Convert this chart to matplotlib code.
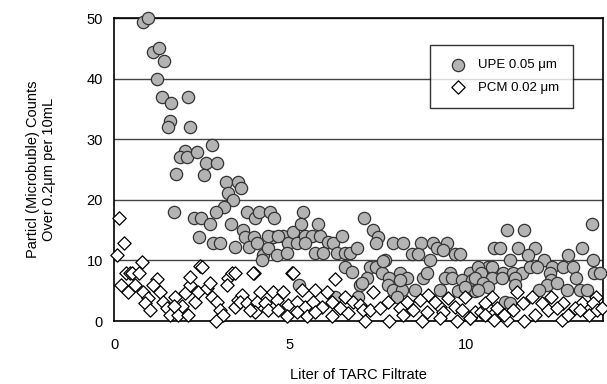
import matplotlib.pyplot as plt

plt.rcParams['font.family'] = ['Liberation Sans', 'DejaVu Sans']

# UPE 0.05 um (grey circles)
upe_x = [0.82, 0.97, 1.11, 1.28, 1.42, 1.22, 1.36, 1.62, 2.10, 1.59, 1.53, 2.16,
         2.78, 2.02, 1.88, 2.07, 2.36, 2.61, 2.93, 1.76, 2.56, 3.18, 3.52, 3.61,
         3.24, 3.38, 3.13, 2.90, 1.70, 2.27, 2.47, 2.73, 2.41, 2.81, 3.01, 3.44,
         3.32, 3.66, 3.78, 4.01, 4.12, 4.43, 4.55, 3.72, 3.98, 3.84, 4.06, 4.23,
         4.20, 4.38, 4.52, 4.63, 4.80, 4.94, 5.09, 5.20, 5.37, 5.31, 5.43, 5.63,
         5.85, 5.80, 6.08, 6.22, 6.48, 5.71, 5.94, 6.34, 6.56, 6.70, 6.90, 5.43,
         4.91, 4.38, 4.66, 5.26, 7.10, 7.36, 7.50, 7.44, 7.93, 8.21, 8.72, 9.06,
         9.18, 9.46, 9.35, 8.47, 8.64, 8.98, 7.70, 6.56, 7.27, 7.44, 7.61, 8.13,
         8.32, 8.78, 8.89, 7.81, 6.99, 7.19, 7.78, 7.93, 6.28, 6.93, 8.18, 8.55,
         8.04, 9.26, 6.76, 7.05, 7.64, 8.13, 9.55, 9.40, 9.60, 10.11, 10.40, 10.63,
         9.91, 10.17, 9.77, 10.26, 9.69, 9.83, 11.19, 11.65, 10.82, 10.97, 11.48, 11.96,
         13.32, 11.76, 12.90, 13.58, 11.25, 12.24, 13.61, 10.34, 10.74, 10.45, 11.05, 11.34,
         11.59, 11.82, 12.02, 12.47, 12.76, 13.04, 10.26, 10.74, 11.02, 11.39, 12.39, 12.44,
         13.15, 13.66, 13.81, 9.97, 10.48, 10.63, 11.39, 12.30, 12.61, 10.34, 12.10, 12.87,
         13.24, 13.44, 11.11, 11.25]
upe_y = [49.3, 50.0, 44.4, 45.0, 42.9, 39.9, 37.0, 36.0, 37.0, 33.0, 32.0, 32.0,
         29.0, 28.1, 27.1, 27.1, 27.9, 26.1, 26.1, 24.3, 24.1, 22.9, 22.9, 21.9,
         21.1, 20.0, 18.8, 18.0, 18.0, 17.0, 17.0, 16.0, 13.9, 12.9, 12.9, 12.2,
         16.0, 15.0, 18.0, 17.0, 18.0, 18.0, 17.0, 13.9, 13.9, 12.2, 12.9, 10.9,
         10.1, 12.0, 13.9, 10.9, 14.0, 12.9, 14.7, 12.9, 18.0, 16.0, 14.0, 14.0,
         14.0, 16.0, 13.0, 12.9, 14.0, 11.2, 11.2, 11.2, 11.2, 11.2, 12.0, 12.9,
         11.2, 14.0, 14.0, 5.9, 17.0, 15.0, 13.9, 12.9, 12.9, 12.9, 12.9, 12.9,
         12.0, 12.9, 11.7, 11.1, 11.1, 10.1, 10.1, 8.9, 8.9, 8.9, 7.9, 7.9,
         7.1, 7.1, 7.9, 7.1, 5.9, 7.1, 5.9, 5.1, 4.0, 4.0, 5.1, 5.1,
         4.0, 5.1, 8.1, 6.3, 9.9, 6.8, 7.9, 7.1, 7.1, 7.9, 7.9, 8.9,
         6.8, 6.8, 5.0, 5.0, 11.1, 11.1, 15.0, 15.0, 12.0, 12.0, 12.0, 12.0,
         12.0, 10.9, 10.9, 16.0, 10.1, 10.1, 10.1, 8.9, 8.9, 7.9, 7.9, 7.9,
         7.9, 8.9, 8.9, 8.9, 8.9, 8.9, 7.1, 7.1, 7.1, 7.1, 7.9, 6.8,
         7.1, 7.9, 7.9, 5.6, 6.3, 5.6, 5.9, 5.9, 6.3, 5.1, 5.1, 5.1,
         5.1, 5.1, 3.1, 3.0]

# PCM 0.02 um (open diamonds)
pcm_x = [0.14, 0.28, 0.09, 0.80, 2.44, 0.35, 0.45, 0.51, 1.22, 0.60, 0.40, 0.82,
         1.11, 1.31, 0.97, 0.88, 1.02, 1.39, 1.51, 1.73, 1.59, 1.82, 1.93, 2.10,
         2.02, 2.16, 2.16, 2.30, 2.39, 2.64, 2.73, 2.78, 2.93, 3.01, 3.10, 2.90,
         3.24, 3.35, 3.21, 3.44, 3.52, 2.50, 3.98, 3.95, 5.06, 5.09, 6.28, 3.44,
         4.15, 4.52, 4.80, 3.64, 5.34, 5.71, 6.05, 6.56, 3.58, 3.78, 4.06, 4.29,
         4.63, 4.94, 5.20, 5.43, 5.65, 5.91, 6.19, 6.42, 6.79, 6.99, 4.38, 4.91,
         5.48, 6.19, 4.00, 4.66, 3.86, 5.20, 5.71, 6.65, 7.36, 9.49, 9.97, 8.92,
         9.26, 7.07, 7.27, 7.56, 7.78, 8.13, 8.32, 8.49, 8.69, 8.89, 9.12, 9.35,
         9.69, 9.91, 10.26, 10.45, 10.60, 7.13, 7.81, 8.75, 9.26, 10.11, 10.82, 11.19,
         11.65, 12.73, 9.74, 8.21, 10.11, 10.74, 10.54, 11.45, 11.90, 12.44, 13.72, 11.62,
         12.16, 12.76, 13.32, 13.61, 10.88, 11.34, 11.96, 12.33, 12.61, 12.90, 13.10, 13.24,
         13.52, 13.75, 13.89, 10.54, 11.10, 0.20, 1.70, 0.70]
pcm_y = [17.0, 12.9, 10.9, 9.7, 9.1, 8.0, 8.0, 7.9, 6.9, 5.9, 4.8, 4.8,
         5.9, 4.8, 3.8, 3.0, 1.8, 3.1, 2.1, 4.0, 1.0, 1.0, 2.5, 1.0,
         4.6, 5.9, 7.3, 3.1, 4.8, 5.4, 6.3, 4.0, 3.1, 1.8, 1.0, 0.0,
         7.1, 7.9, 5.9, 2.3, 3.5, 8.9, 7.9, 7.9, 8.0, 8.0, 6.9, 7.9,
         4.8, 4.8, 4.8, 4.3, 5.1, 5.1, 4.8, 4.0, 3.1, 3.0, 3.1, 3.0,
         3.5, 2.6, 3.1, 2.3, 3.1, 2.3, 3.1, 2.1, 3.1, 2.6, 1.8, 0.8,
         0.8, 0.8, 1.5, 1.8, 1.8, 1.5, 1.5, 1.3, 4.8, 3.8, 4.0, 4.3,
         2.3, 1.8, 1.8, 2.1, 3.1, 2.1, 3.1, 1.8, 3.5, 1.5, 3.1, 1.5,
         2.3, 1.8, 1.5, 1.5, 2.3, 0.0, 0.0, 0.0, 0.5, 0.5, 0.2, 0.2,
         0.0, 0.2, 0.0, 1.0, 0.5, 4.0, 3.0, 4.8, 4.0, 4.0, 4.0, 3.0,
         3.0, 3.0, 3.0, 3.0, 2.1, 1.8, 1.0, 1.8, 2.1, 1.0, 2.1, 1.8,
         1.0, 1.8, 2.1, 1.0, 1.0, 6.0, 2.5, 8.0]

fig = plt.figure(figsize=(6.07, 3.84), dpi=100)
ax = fig.add_axes([0.188, 0.164, 0.805, 0.789])

ax.scatter(upe_x, upe_y, s=78, marker='o', facecolor='#b3b3b3',
           edgecolor='#333333', linewidth=0.9, clip_on=False, zorder=3,
           label='UPE 0.05 \u03bcm')
ax.scatter(pcm_x, pcm_y, s=46, marker='D', facecolor='white',
           edgecolor='black', linewidth=0.9, clip_on=False, zorder=4,
           label='PCM 0.02 \u03bcm')

ax.set_xlim(0, 13.9)
ax.set_ylim(0, 50)
ax.set_xticks([0, 5, 10])
ax.set_yticks([0, 10, 20, 30, 40, 50])
ax.yaxis.grid(True, color='#444444', linewidth=1.0)
ax.set_axisbelow(True)
ax.tick_params(axis='y', labelsize=10.5, length=0, pad=8)
ax.tick_params(axis='x', labelsize=10.5, length=0, pad=12)
for sp in ax.spines.values():
    sp.set_linewidth(1.2)

ax.set_xlabel('Liter of TARC Filtrate', fontsize=10.5, labelpad=12)
ax.set_ylabel('Particl (Microbuble) Counts\nOver 0.2\u03bcm per 10mL',
              fontsize=10.5, labelpad=22)

leg = ax.legend(loc='upper right', bbox_to_anchor=(0.953, 0.934),
                fontsize=9.5, frameon=True, fancybox=False,
                edgecolor='black', borderpad=1.1, labelspacing=0.75,
                handletextpad=0.5, scatterpoints=1)
leg.get_frame().set_linewidth(1.0)

plt.savefig('out.png', dpi=100)
